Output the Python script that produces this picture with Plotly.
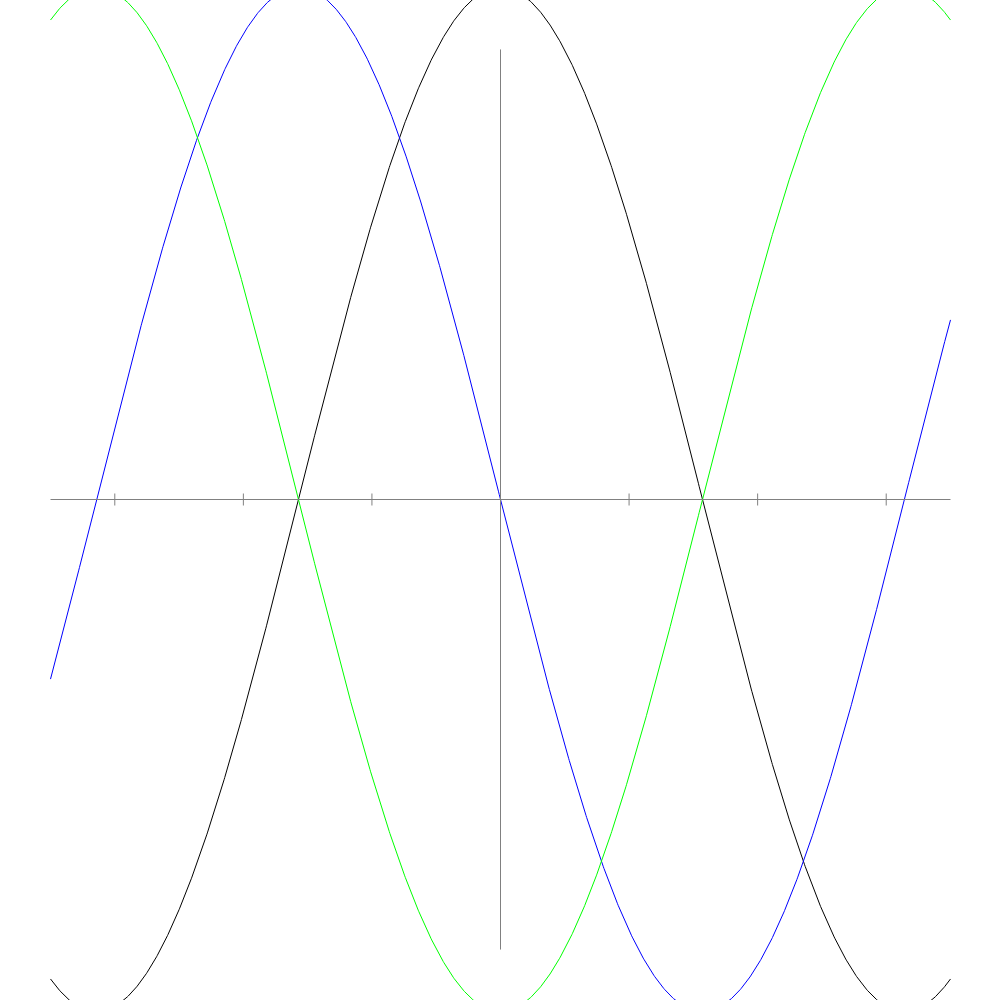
import numpy as np
import plotly.graph_objects as go

# Domain of the curves and tick positions (radians)
x_min, x_max = -3.5, 3.5
tick_values = [-3, -2, -1, 0, 1, 2, 3]
y_axis_extent = 0.879  # half-length of the vertical axis line (data units)

# Curve definitions: name, colour, phase shift (curve = cos(x + phase))
curve_names = ["cos", "-sin", "-cos"]
curve_colors = ["#000000", "#0000ff", "#00ff00"]
curve_phases = [0.0, np.pi / 2, np.pi]

x = np.linspace(x_min, x_max, 1401)

fig = go.Figure()
for name, color, phase in zip(curve_names, curve_colors, curve_phases):
    fig.add_trace(go.Scatter(x=x, y=np.cos(x + phase), mode="lines", name=name,
                             line=dict(color=color, width=1), hoverinfo="skip"))

axis_color = "#808080"
shapes = [
    dict(type="line", xref="x", yref="y", x0=x_min, x1=x_max, y0=0, y1=0,
         line=dict(color=axis_color, width=1)),
    dict(type="line", xref="x", yref="y", x0=0, x1=0, y0=-y_axis_extent, y1=y_axis_extent,
         line=dict(color=axis_color, width=1)),
]
tick_half = 6 / 512
for t in tick_values:
    if t == 0:
        continue
    shapes.append(dict(type="line", xref="x", yref="y", x0=t, x1=t, y0=-tick_half, y1=tick_half,
                       line=dict(color=axis_color, width=1)))

px_per_x = 900 / 7.0
px_per_y = 512.0
cx, cy = 500.5, 499.5  # pixel position of the origin
fig.update_layout(
    width=1000, height=1000,
    margin=dict(l=0, r=0, t=0, b=0),
    paper_bgcolor="white", plot_bgcolor="white",
    showlegend=False,
    shapes=shapes,
    xaxis=dict(range=[-cx / px_per_x, (1000 - cx) / px_per_x], visible=False, fixedrange=True),
    yaxis=dict(range=[(cy - 1000) / px_per_y, cy / px_per_y], visible=False, fixedrange=True),
)

fig.write_html("out.html", config={"displayModeBar": False},
               post_script="document.body.style.margin='0';document.body.style.overflow='hidden';")
